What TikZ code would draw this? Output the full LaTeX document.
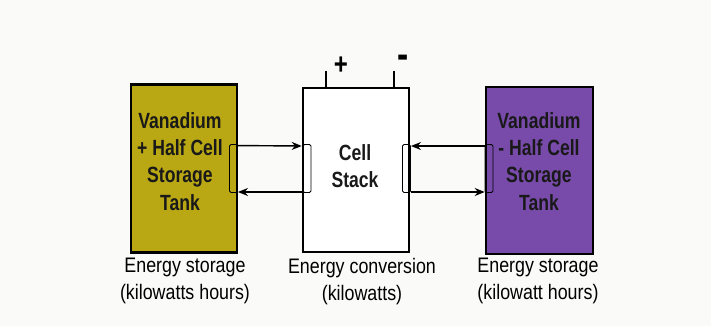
\documentclass[tikz,border=0pt]{standalone}
\usepackage{fontspec}
\newfontfamily\lab[FakeStretch=0.85]{Liberation Sans}
\newfontfamily\labb[FakeStretch=0.80]{Liberation Sans Bold}
\usetikzlibrary{arrows.meta}
\definecolor{tankyellow}{HTML}{B9A814}
\definecolor{tankpurple}{HTML}{784BAA}
\definecolor{bg}{HTML}{FAFAF8}
\tikzset{
  box/.style={draw=black, line width=2.6pt, inner sep=0pt},
  port/.style={draw=black, line width=0.9pt, rounded corners=1.5pt, inner sep=0pt, minimum width=8pt, minimum height=48pt},
  flow/.style={line width=1.4pt, -{Stealth[length=10pt,width=8pt]}},
  term/.style={line width=1.6pt},
  captxt/.style={font=\lab\fontsize{21}{27}\selectfont, align=center, inner sep=0pt, anchor=north},
  tanktxt/.style={font=\labb\fontsize{22}{27.3}\selectfont, align=center, inner sep=0pt, anchor=north, text=black!90}
}
\begin{document}
\begin{tikzpicture}[x=1pt, y=-1pt]
  \fill[bg] (0,0) rectangle (711,326);
  \useasboundingbox (0,0) rectangle (711,326);
  % tanks and stack
  \node[box, fill=tankyellow, minimum width=106pt, minimum height=168pt] (lt) at (184,168.5) {};
  \node[box, fill=white, minimum width=106pt, minimum height=164pt] (cs) at (356,170) {};
  \node[box, fill=tankpurple, minimum width=107pt, minimum height=167pt] (rt) at (539.5,170.5) {};
  % texts inside
  \node[tanktxt] (ltt) at (180,112) {Vanadium\\+ Half Cell\\Storage\\Tank};
  \node[tanktxt] (cst) at (355,144) {Cell\\Stack};
  \node[tanktxt] (rtt) at (539,112) {Vanadium\\- Half Cell\\Storage\\Tank};
  % ports
  \node[port] (lp) at (233.5,168.5) {};
  \node[port] (clp) at (307,168.5) {};
  \node[port] (crp) at (406.5,168.5) {};
  \node[port] (rp) at (489,168.5) {};
  % flows
  \draw[flow] (lp.north east) ++(0,1.5) -- (cs.west |- {(0,146)});
  \draw[flow] (cs.west |- {(0,192)}) -- (lp.east |- {(0,192)});
  \draw[flow] (rt.west |- {(0,146)}) -- (crp.east |- {(0,146)});
  \draw[flow] (crp.east |- {(0,192)}) -- (rt.west |- {(0,192)});
  % terminals
  \coordinate (tp) at (326,71);
  \coordinate (tm) at (394,71);
  \draw[term] (tp) -- (tp |- cs.north);
  \draw[term] (tm) -- (tm |- cs.north);
  \node[font=\labb\fontsize{30}{30}\selectfont, inner sep=0pt] (plus) at (341,66) {+};
  \node[font=\labb\fontsize{42}{42}\selectfont, inner sep=0pt] (minus) at (403,62) {-};
  % captions
  \node[captxt] (c1) at (185,258) {Energy storage\\(kilowatts hours)};
  \node[captxt] (c2) at (362,258) {Energy conversion\\(kilowatts)};
  \node[captxt] (c3) at (538,258) {Energy storage\\(kilowatt hours)};
\end{tikzpicture}
\end{document}
